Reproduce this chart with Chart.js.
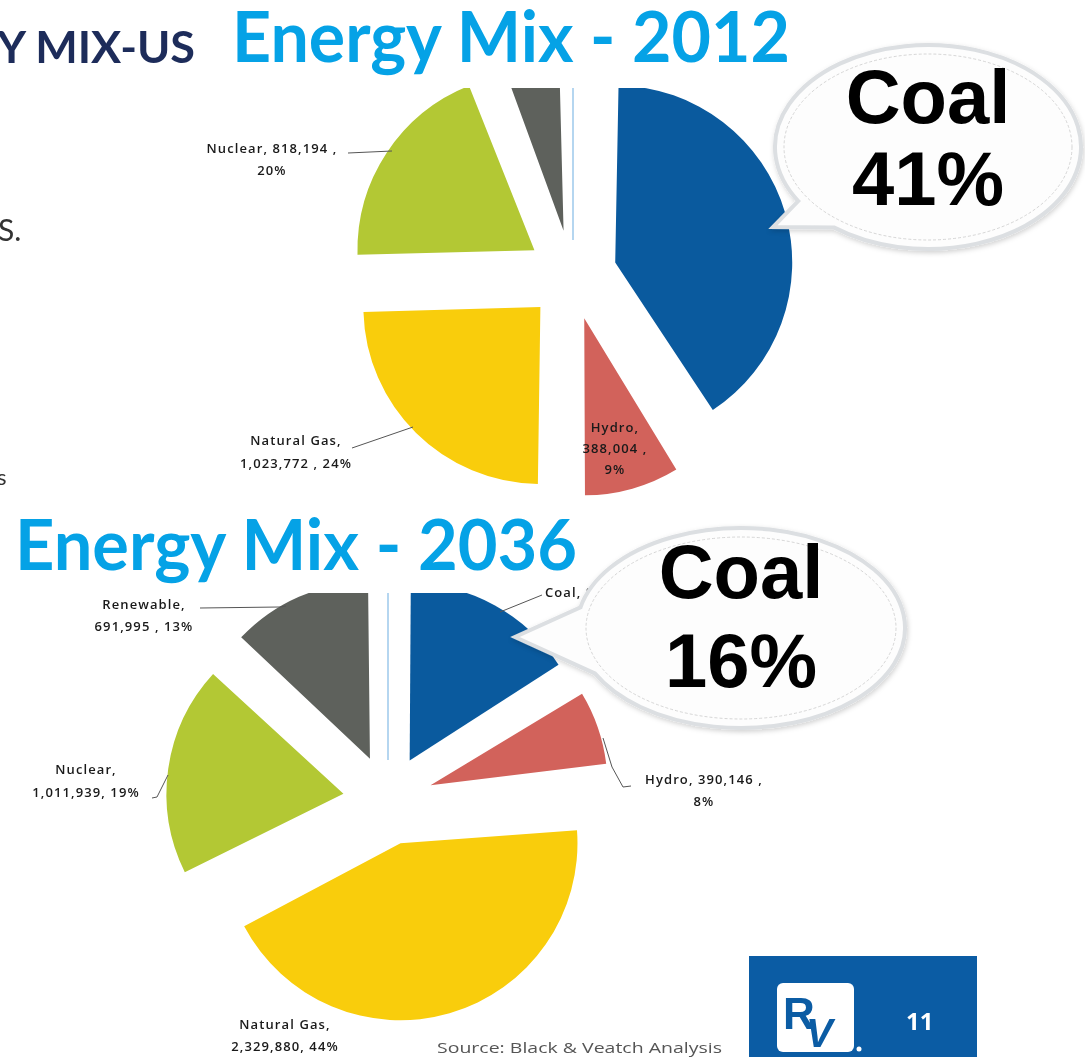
<!DOCTYPE html>
<html lang="en">
<head>
  <meta charset="UTF-8">
  <title>Energy Mix - US</title>
  <script src="https://cdn.jsdelivr.net/npm/chart.js"></script>
  <style>
    body {
      margin: 0;
      width: 1085px;
      height: 1057px;
      background: #fff;
      position: relative;
      overflow: hidden;
      font-family: Lato, 'Open Sans', sans-serif;
    }
    .clip {
      position: absolute;
      overflow: hidden;
    }
    .clip canvas {
      position: absolute;
      left: 0;
    }
    #overlay {
      position: absolute;
      left: 0;
      top: 0;
      pointer-events: none;
    }
  </style>
</head>
<body>
  <div class="clip" style="left:332px; top:88px; width:480px; height:427px;">
    <canvas id="pie2012" width="480" height="480" style="top:-53px"></canvas>
  </div>
  <div class="clip" style="left:148px; top:593px; width:480px; height:464px;">
    <canvas id="pie2036" width="480" height="480" style="top:-33px"></canvas>
  </div>
  <svg id="overlay" width="1085" height="1057"></svg>

  <script>
    // data
    const categories = ['Coal', 'Hydro', 'Natural Gas', 'Nuclear', 'Renewable'];
    const values2012 = [1725000, 388004, 1023772, 818194, 252000];
    const pct2012 = [41, 9, 24, 20, 6];
    const values2036 = [842659, 390146, 2329880, 1011939, 691995];
    const pct2036 = [16, 8, 44, 19, 13];
    const sliceColors = ['#0a5a9e', '#d2625b', '#f9cd0c', '#b3c834', '#5e615c'];

    const R = 177;       // pie radius in px
    const EXPLODE = 45;  // how far each slice is pulled out

    // Chart.js grows offset slices a bit; keep every slice at the same radius
    const keepRadius = {
      id: 'keepRadius',
      afterDatasetsUpdate(chart) {
        chart.getDatasetMeta(0).data.forEach(arc => {
          const off = (arc.options.offset || 0) / 4;
          const fix = 1 - Math.sin(Math.min(Math.PI, arc.circumference));
          arc.outerRadius = R - off * fix;
        });
      }
    };

    function makePie(id, values) {
      return new Chart(document.getElementById(id), {
        type: 'pie',
        data: {
          labels: categories,
          datasets: [{
            data: values,
            backgroundColor: sliceColors,
            borderWidth: 0,
            offset: EXPLODE * 4
          }]
        },
        options: {
          responsive: false,
          animation: false,
          events: [],
          radius: R,
          layout: { padding: 0 },
          plugins: {
            legend: { display: false },
            tooltip: { enabled: false }
          }
        },
        plugins: [keepRadius]
      });
    }

    makePie('pie2012', values2012);
    makePie('pie2036', values2036);

    // ---- text, leader lines, call-outs ----
    const svg = document.getElementById('overlay');
    const NS = 'http://www.w3.org/2000/svg';
    function el(tag, attrs, text) {
      const e = document.createElementNS(NS, tag);
      for (const k in attrs) e.setAttribute(k, attrs[k]);
      if (text !== undefined) e.textContent = text;
      svg.appendChild(e);
      return e;
    }
    const fmt = v => v.toLocaleString('en-US');

    el('defs', {}).innerHTML =
      '<filter id="sh" x="-20%" y="-20%" width="140%" height="140%">' +
      '<feDropShadow dx="1" dy="2" stdDeviation="2.5" flood-color="#000" flood-opacity="0.18"/></filter>';

    // leftovers of the slide underneath
    el('text', { x: -3, y: 63, 'font-size': 44, 'font-weight': 700, fill: '#1d2c5a',
      textLength: 198, lengthAdjust: 'spacingAndGlyphs' }, 'Y MIX-US');
    el('text', { x: -2, y: 241, 'font-size': 30, fill: '#333' }, 'S.');
    el('text', { x: -3, y: 485, 'font-size': 22, fill: '#333' }, 's');

    // thin separators
    el('line', { x1: 573, y1: 88, x2: 573, y2: 240, stroke: '#b5d6f0', 'stroke-width': 2 });
    el('line', { x1: 388, y1: 593, x2: 388, y2: 760, stroke: '#b5d6f0', 'stroke-width': 2 });

    // titles
    el('text', { x: 232, y: 62, 'font-size': 70, 'font-weight': 700, fill: '#05a2e6',
      textLength: 558, lengthAdjust: 'spacingAndGlyphs' }, 'Energy Mix - 2012');
    el('text', { x: 15, y: 570, 'font-size': 70, 'font-weight': 700, fill: '#05a2e6',
      textLength: 562, lengthAdjust: 'spacingAndGlyphs' }, 'Energy Mix - 2036');

    // data labels
    const lblFont = { 'font-family': "'Open Sans', sans-serif", 'font-size': 13, 'font-weight': 600,
      fill: '#1a1a1a', 'text-anchor': 'middle', 'letter-spacing': 1.1 };
    function label(lines, cx, y0, gap) {
      lines.forEach((t, i) => el('text', Object.assign({ x: cx, y: y0 + i * gap }, lblFont), t));
    }
    function leader(pts) {
      el('polyline', { points: pts, fill: 'none', stroke: '#555', 'stroke-width': 1 });
    }

    // 2012
    label([categories[3] + ', ' + fmt(values2012[3]) + ' ,', pct2012[3] + '%'], 272, 153, 22);
    leader('348,153 392,151');
    label([categories[2] + ',', fmt(values2012[2]) + ' , ' + pct2012[2] + '%'], 296, 445, 23);
    leader('352,448 413,427');
    label([categories[1] + ',', fmt(values2012[1]) + ' ,', pct2012[1] + '%'], 615, 432, 21);

    // 2036
    label([categories[4] + ',', fmt(values2036[4]) + ' , ' + pct2036[4] + '%'], 144, 609, 22);
    leader('200,608 280,607 286,606');
    el('text', Object.assign({}, lblFont, { x: 545, y: 597, 'text-anchor': 'start' }),
      categories[0] + ', ' + fmt(values2036[0]) + ' , ' + pct2036[0] + '%');
    leader('500,612 542,595');
    label([categories[1] + ', ' + fmt(values2036[1]) + ' ,', pct2036[1] + '%'], 704, 784, 22);
    leader('603,738 612,767 623,787 631,786');
    label([categories[3] + ',', fmt(values2036[3]) + ', ' + pct2036[3] + '%'], 86, 774, 23);
    leader('152,798 157,797 168,775');
    label([categories[2] + ',', fmt(values2036[2]) + ', ' + pct2036[2] + '%'], 285, 1029, 22);

    // speech bubbles
    function bubble(cx, cy, rx, ry, tLow, tUp, tip, lines, base1, base2) {
      const p = t => [cx + rx * Math.cos(t * Math.PI / 180), cy + ry * Math.sin(t * Math.PI / 180)];
      const a = p(tLow), b = p(tUp);
      el('path', {
        d: `M${a[0]},${a[1]} A${rx},${ry} 0 1 0 ${b[0]},${b[1]} L${tip[0]},${tip[1]} Z`,
        fill: '#fdfdfd', stroke: '#dcdfe2', 'stroke-width': 4, filter: 'url(#sh)'
      });
      el('ellipse', { cx: cx, cy: cy, rx: rx - 9, ry: ry - 9, fill: 'none', stroke: '#cccccc',
        'stroke-width': 0.8, 'stroke-dasharray': '3 2' });
      const f = { 'font-family': "'Liberation Sans', Arial, sans-serif", 'font-weight': 700,
        'font-size': 76, fill: '#000', 'text-anchor': 'middle' };
      el('text', Object.assign({ x: cx, y: base1 }, f), lines[0]);
      el('text', Object.assign({ x: cx, y: base2 }, f), lines[1]);
    }
    bubble(928, 147, 153, 102, 128, 148, [773, 227], [categories[0], pct2012[0] + '%'], 123, 205);
    bubble(741, 628, 164, 100, 153, 192, [515, 637], [categories[0], pct2036[0] + '%'], 598, 687);

    // footer
    el('text', { x: 437, y: 1053, 'font-family': "'Open Sans', sans-serif", 'font-size': 15, fill: '#555',
      textLength: 285, lengthAdjust: 'spacingAndGlyphs' }, 'Source: Black & Veatch Analysis');
    el('rect', { x: 749, y: 956, width: 228, height: 101, fill: '#0b5ca4' });
    el('rect', { x: 777, y: 983, width: 77, height: 69, rx: 6, fill: '#fff' });
    el('text', { x: 783, y: 1029, 'font-family': "'Liberation Sans', Arial, sans-serif", 'font-size': 44,
      'font-weight': 700, fill: '#0b5ca4' }, 'R');
    el('text', { x: 806, y: 1047, 'font-family': "'Liberation Sans', Arial, sans-serif", 'font-size': 40,
      'font-weight': 700, 'font-style': 'italic', fill: '#0b5ca4' }, 'V');
    el('circle', { cx: 859, cy: 1049, r: 2.5, fill: '#fff' });
    el('text', { x: 906, y: 1030, 'font-family': "'Open Sans', sans-serif", 'font-size': 24,
      'font-weight': 700, fill: '#fff' }, '11');
  </script>
</body>
</html>
